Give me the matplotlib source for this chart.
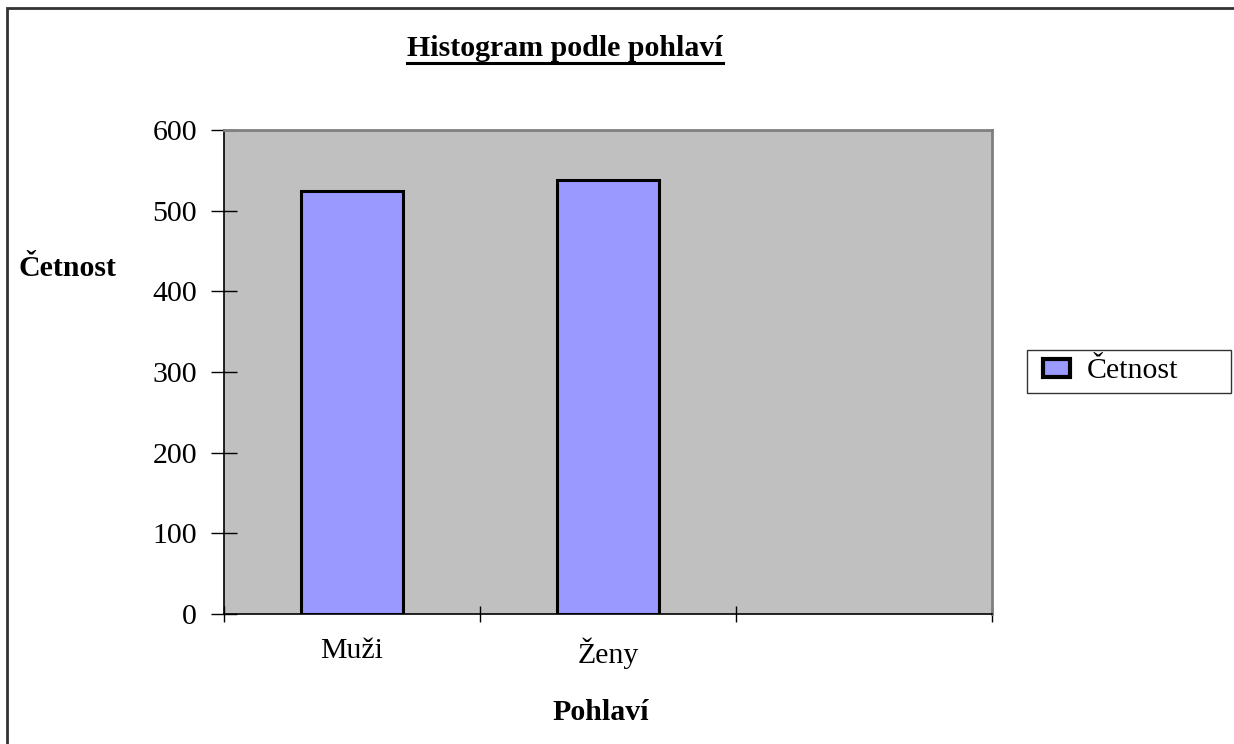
import matplotlib
matplotlib.use("Agg")
import matplotlib.pyplot as plt
from matplotlib.lines import Line2D
from matplotlib.patches import Rectangle
from matplotlib.legend_handler import HandlerPatch

categories = ["Muži", "Ženy", ""]
counts = [524, 538]
series_name = "Četnost"
y_ticks = [0, 100, 200, 300, 400, 500, 600]

plt.rcParams['font.family'] = ['Liberation Serif', 'DejaVu Serif']
FS = 21.5

fig = plt.figure(figsize=(12.34, 7.44), dpi=100)
ax = fig.add_axes([224/1234, 130/744, 768/1234, 484/744])
ax.set_facecolor('#C0C0C0')

# bars sit in the middle of each category slot
xpos = [i + 0.5 for i in range(len(counts))]
bars = ax.bar(xpos, counts, width=0.4, color='#9999FF', edgecolor='black', linewidth=2.2,
              label=series_name, zorder=3)

ax.set_xlim(0, len(categories))
ax.set_ylim(0, 600)
ax.set_yticks(y_ticks)
ax.set_yticklabels([str(v) for v in y_ticks], fontsize=FS)
ax.tick_params(axis='y', direction='inout', length=19, width=1, pad=10)

# category boundaries get the ticks, names go in the middle
ax.set_xticks(range(len(categories) + 1))
ax.set_xticklabels([])
ax.tick_params(axis='x', which='major', direction='inout', length=12, width=1)
ax.set_xticks([i + 0.5 for i in range(len(categories))], minor=True)
ax.set_xticklabels(categories, minor=True, fontsize=FS)
ax.tick_params(axis='x', which='minor', length=0, pad=17)

for s in ['top', 'right']:
    ax.spines[s].set_color('#808080')
    ax.spines[s].set_linewidth(2)
for s in ['left', 'bottom']:
    ax.spines[s].set_color('black')
    ax.spines[s].set_linewidth(1.2)

# axis titles
fig.text(18/1234, 1 - 268/744, "Četnost", fontsize=FS, fontweight='bold', va='center', ha='left')
fig.text(601/1234, 1 - 713/744, "Pohlaví", fontsize=FS, fontweight='bold', va='center', ha='center')

# underlined title
title = fig.text(565/1234, 1 - 49/744, "Histogram podle pohlaví", fontsize=FS,
                 fontweight='bold', va='center', ha='center')
fig.canvas.draw()
bb = title.get_window_extent().transformed(fig.transFigure.inverted())
fig.add_artist(Line2D([bb.x0, bb.x1], [1 - 63/744, 1 - 63/744], color='black',
                      linewidth=2.2, transform=fig.transFigure))

# legend box stretched to the width seen in the reference
def first_bar(legend_handle, orig_handle):
    legend_handle.update_from(orig_handle[0])
    legend_handle.set_linewidth(3)

leg = fig.legend(handles=[bars], labels=[series_name],
                 loc='center left', bbox_to_anchor=(1027/1234, 1 - 393/744, 204/1234, 43/744),
                 mode='expand', fontsize=FS, frameon=True, fancybox=False, borderaxespad=0,
                 handlelength=1.15, handleheight=0.55, borderpad=0.3, handletextpad=0.55,
                 handler_map={type(bars): HandlerPatch(xpad=0.25, update_func=first_bar)})
leg.get_frame().set_edgecolor('black')
leg.get_frame().set_linewidth(1)

# outer border of the chart (only left/top visible in the crop)
fig.add_artist(Rectangle((7/1234, -0.1), 1.2, 1 - 8/744 + 0.1, fill=False,
                         edgecolor='#333333', linewidth=2, transform=fig.transFigure))

fig.savefig("out.png", dpi=100)
